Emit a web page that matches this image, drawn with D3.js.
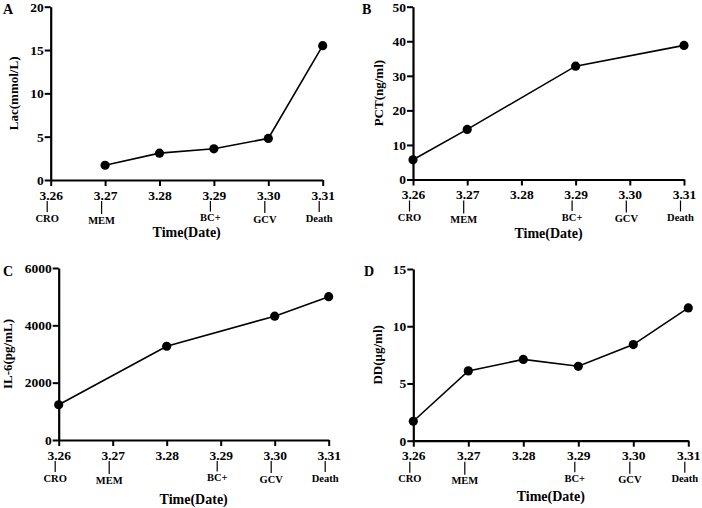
<!DOCTYPE html>
<html><head><meta charset="utf-8">
<script src="https://cdnjs.cloudflare.com/ajax/libs/d3/7.8.5/d3.min.js"></script>
<style>
body{margin:0;background:#fff;}
text{font-family:"Liberation Serif","Times New Roman",serif;font-weight:bold;fill:#000;}
</style></head><body>
<svg id="c" width="702" height="508"></svg>
<script>
const dates = ["3.26","3.27","3.28","3.29","3.30","3.31"];
const events = ["CRO","MEM","","BC+","GCV","Death"];
const lacDates = ["3.27","3.28","3.29","3.30","3.31"];
const lacValues = [1.7, 3.1, 3.6, 4.8, 15.5];
const pctDates = ["3.26","3.27","3.29","3.31"];
const pctValues = [5.7, 14.5, 32.8, 38.8];
const il6Dates = ["3.26","3.28","3.30","3.31"];
const il6Values = [1230, 3270, 4320, 5000];
const ddDates = ["3.26","3.27","3.28","3.29","3.30","3.31"];
const ddValues = [1.7, 6.1, 7.1, 6.5, 8.4, 11.6];
const lacTicks = [0,5,10,15,20];
const pctTicks = [0,10,20,30,40,50];
const il6Ticks = [0,2000,4000,6000];
const ddTicks = [0,5,10,15];

const panels = [
 {letter:"A", lx:3, ly:14, ylabel:"Lac(mmol/L)", ylx:14.3, x0:50.7, x1:322.7, yt:6.7, yb:180, ymax:20, ticks:lacTicks, d:lacDates, v:lacValues, titleDy:57},
 {letter:"B", lx:362, ly:14, ylabel:"PCT(ng/ml)", ylx:379, x0:413, x1:684, yt:6.7, yb:179.5, ymax:50, ticks:pctTicks, d:pctDates, v:pctValues, titleDy:58},
 {letter:"C", lx:3, ly:276, ylabel:"IL-6(pg/mL)", ylx:8.5, x0:58.7, x1:328.7, yt:268, yb:440, ymax:6000, ticks:il6Ticks, d:il6Dates, v:il6Values, titleDy:64},
 {letter:"D", lx:364, ly:276, ylabel:"DD(μg/ml)", ylx:378, x0:413.3, x1:688.3, yt:269, yb:440.7, ymax:15, ticks:ddTicks, d:ddDates, v:ddValues, titleDy:60}
];
const evDy = [38, 40, 38, 37.5, 39, 38];

const svg = d3.select("#c");
panels.forEach(p => {
  const g = svg.append("g");
  const x = d3.scalePoint().domain(dates).range([p.x0, p.x1]);
  const y = d3.scaleLinear().domain([0, p.ymax]).range([p.yb, p.yt]);
  const xa = g.append("g").attr("transform", `translate(0,${p.yb})`)
    .call(d3.axisBottom(x).tickSizeOuter(0).tickSizeInner(6).tickPadding(4));
  const ya = g.append("g").attr("transform", `translate(${p.x0},0)`)
    .call(d3.axisLeft(y).tickValues(p.ticks).tickFormat(d3.format("d")).tickSizeOuter(0).tickSizeInner(6).tickPadding(1));
  [xa, ya].forEach(a => {
    a.attr("font-family", null).attr("font-size", null);
    a.select(".domain").attr("stroke", "#000").attr("stroke-width", 2.2);
    a.selectAll(".tick line").attr("stroke", "#000").attr("stroke-width", 2);
    a.selectAll(".tick text").style("font-size", "13.5px");
  });
  dates.forEach((dt, i) => {
    if (!events[i]) return;
    const mx = x(dt) - 3.5;
    g.append("line").attr("x1", mx).attr("x2", mx)
      .attr("y1", p.yb + 21).attr("y2", p.yb + evDy[i] - 6)
      .attr("stroke", "#000").attr("stroke-width", 1.2);
    g.append("text").attr("x", mx).attr("y", p.yb + evDy[i] + 3.5)
      .attr("text-anchor", "middle").style("font-size", "10.5px").text(events[i]);
  });
  g.append("text").attr("x", (p.x0 + p.x1) / 2).attr("y", p.yb + p.titleDy)
    .attr("text-anchor", "middle").style("font-size", "14px").text("Time(Date)");
  g.append("text").attr("transform", `translate(${p.ylx + 3.5},${(p.yt + p.yb) / 2}) rotate(-90)`)
    .attr("text-anchor", "middle").style("font-size", "13px").text(p.ylabel);
  g.append("text").attr("x", p.lx).attr("y", p.ly).style("font-size", "14px").text(p.letter);
  const pts = p.d.map((dt, i) => [x(dt), y(p.v[i])]);
  g.append("path").attr("d", d3.line()(pts)).attr("fill", "none")
    .attr("stroke", "#000").attr("stroke-width", 1.6);
  g.selectAll("circle.pt").data(pts).enter().append("circle")
    .attr("cx", d => d[0]).attr("cy", d => d[1]).attr("r", 4.6).attr("fill", "#000");
});
</script></body></html>
